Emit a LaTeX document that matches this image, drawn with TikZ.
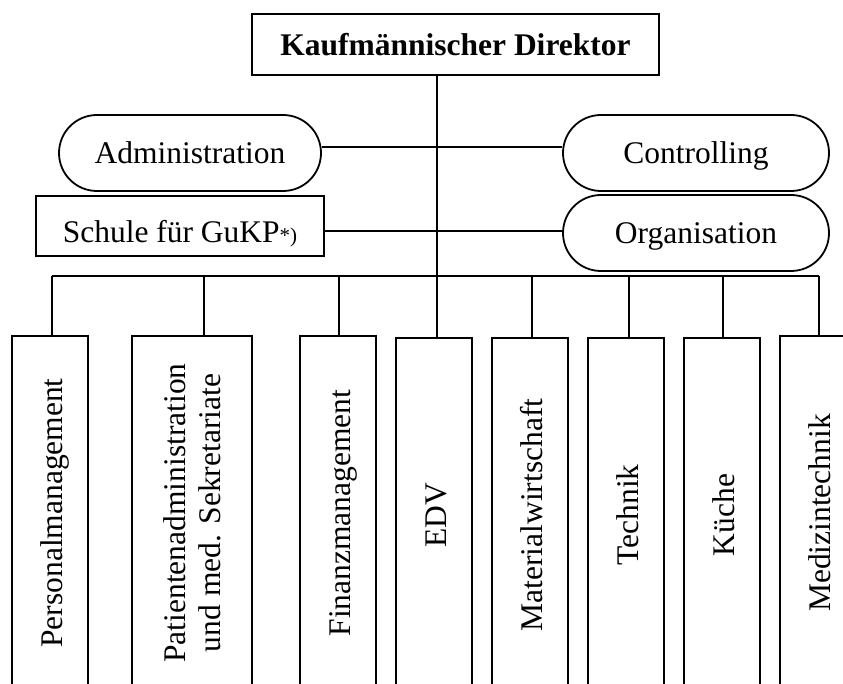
\documentclass[tikz,border=0pt]{standalone}
\usepackage{fontspec}
\setmainfont{Liberation Serif}
\begin{document}
\begin{tikzpicture}[x=1pt,y=-1pt]
\tikzset{
  ln/.style={line width=1.8pt},
  boxr/.style={draw, line width=1.8pt, inner sep=0pt, font=\fontsize{31.5}{35}\selectfont},
  pill/.style={boxr, rounded corners=38pt, minimum width=266pt, minimum height=76pt, text height=22pt, text depth=0pt},
  unit/.style={boxr, rotate=90, minimum width=354pt, minimum height=76pt, align=center},
  one/.style={unit, text height=25pt, text depth=0pt}
}
\useasboundingbox (0,0) rectangle (843,684);
\clip (0,0) rectangle (843,684);

\node[boxr, minimum width=407pt, minimum height=61pt, font=\fontsize{31.5}{36}\selectfont\bfseries] (dir) at (455.5,44.5) {Kaufmännischer Direktor};
\node[pill, minimum width=262pt] (adm) at (190,153) {Administration};
\node[pill] (ctl) at (696,153) {Controlling};
\node[pill] (org) at (696,233) {Organisation};
\node[boxr, minimum width=288pt, minimum height=60pt, text height=34pt, text depth=0pt] (sch) at (180,226) {Schule für GuKP{\fontsize{21}{24}\selectfont *)}};

\node[one] (u1) at (50,513) {Personalmanagement};
\node[unit, minimum height=120pt] (u2) at (192,513) {Patientenadministration\\und med. Sekretariate};
\node[one] (u3) at (338,513) {Finanzmanagement};
\node[one] (u4) at (434,515) {EDV};
\node[one] (u5) at (530,515) {Materialwirtschaft};
\node[one] (u6) at (626,515) {Technik};
\node[one] (u7) at (722,515) {Küche};
\node[one] (u8) at (818,513) {Medizintechnik};

\coordinate (cA) at (437,147);
\coordinate (cS) at (437,231);
\coordinate (bus) at (437,276);
\coordinate (b1) at (52,276);
\coordinate (b2) at (204,276);
\coordinate (b3) at (339,276);
\coordinate (b5) at (532,276);
\coordinate (b6) at (629,276);
\coordinate (b7) at (723,276);
\coordinate (b8) at (819,276);

\draw[ln] (bus |- dir.south) -- (bus |- u4.east);
\draw[ln] (adm.east |- cA) -- (cA) -- (ctl.west |- cA);
\draw[ln] (sch.east |- cS) -- (cS) -- (org.west |- cS);
\draw[ln] (b1) -- (b8);
\draw[ln] (b1) -- (b1 |- u1.east);
\draw[ln] (b2) -- (b2 |- u2.east);
\draw[ln] (b3) -- (b3 |- u3.east);
\draw[ln] (b5) -- (b5 |- u5.east);
\draw[ln] (b6) -- (b6 |- u6.east);
\draw[ln] (b7) -- (b7 |- u7.east);
\draw[ln] (b8) -- (b8 |- u8.east);
\end{tikzpicture}
\end{document}
